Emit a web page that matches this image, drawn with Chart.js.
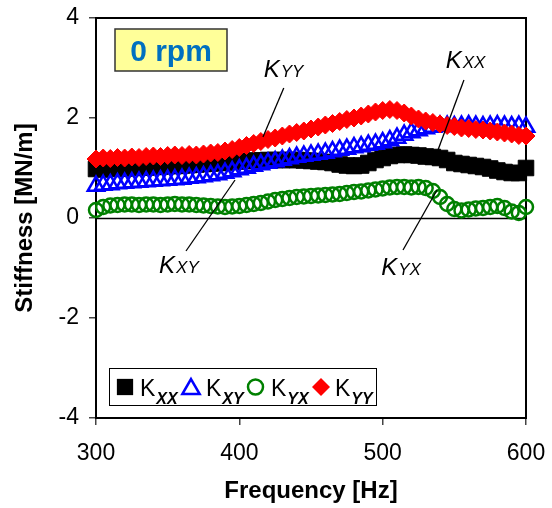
<!DOCTYPE html>
<html>
<head>
<meta charset="utf-8">
<script src="https://cdn.jsdelivr.net/npm/chart.js@4.4.1/dist/chart.umd.min.js"></script>
<style>
  body { margin: 0; background: #fff; }
  canvas { display: block; }
</style>
</head>
<body>
<canvas id="stiffChart" width="552" height="508"></canvas>
<script>
// frequency points [Hz]
const freqHz = [300, 305, 310, 315, 320, 325, 330, 335, 340, 345, 350, 355, 360, 365, 370, 375,
  380, 385, 390, 395, 400, 405, 410, 415, 420, 425, 430, 435, 440, 445, 450, 455, 460, 465,
  470, 475, 480, 485, 490, 495, 500, 505, 510, 515, 520, 525, 530, 535, 540, 545, 550, 555,
  560, 565, 570, 575, 580, 585, 590, 595, 600];

// stiffness [MN/m]
const kxx = [0.98, 0.97, 0.98, 0.99, 0.99, 1.0, 1.01, 1.01, 1.02, 1.03, 1.04, 1.04, 1.05, 1.06,
  1.07, 1.08, 1.09, 1.1, 1.11, 1.12, 1.13, 1.14, 1.15, 1.15, 1.16, 1.16, 1.16, 1.16, 1.16, 1.15,
  1.14, 1.13, 1.12, 1.1, 1.07, 1.05, 1.04, 1.05, 1.1, 1.16, 1.2, 1.24, 1.26, 1.27, 1.26, 1.25,
  1.23, 1.22, 1.2, 1.16, 1.1, 1.08, 1.06, 1.04, 1.02, 0.99, 0.95, 0.92, 0.9, 0.9, 1.0];
const kxy = [0.64, 0.66, 0.67, 0.69, 0.7, 0.71, 0.72, 0.73, 0.74, 0.75, 0.76, 0.77, 0.78, 0.8,
  0.81, 0.83, 0.85, 0.87, 0.9, 0.93, 0.97, 1.0, 1.04, 1.07, 1.1, 1.13, 1.16, 1.19, 1.22, 1.24,
  1.26, 1.28, 1.3, 1.33, 1.36, 1.38, 1.41, 1.43, 1.46, 1.48, 1.51, 1.55, 1.6, 1.66, 1.71, 1.75,
  1.79, 1.82, 1.84, 1.84, 1.83, 1.84, 1.85, 1.84, 1.83, 1.84, 1.85, 1.84, 1.83, 1.84, 1.82];
const kyx = [0.16, 0.22, 0.25, 0.26, 0.27, 0.27, 0.26, 0.27, 0.27, 0.26, 0.27, 0.28, 0.27, 0.27,
  0.26, 0.25, 0.24, 0.23, 0.22, 0.23, 0.24, 0.26, 0.28, 0.3, 0.33, 0.36, 0.38, 0.4, 0.42, 0.43,
  0.44, 0.45, 0.46, 0.47, 0.48, 0.5, 0.52, 0.53, 0.55, 0.57, 0.59, 0.61, 0.62, 0.62, 0.61, 0.62,
  0.6, 0.54, 0.42, 0.28, 0.18, 0.15, 0.17, 0.19, 0.2, 0.22, 0.24, 0.2, 0.13, 0.1, 0.22];
const kyy = [1.18, 1.2, 1.19, 1.21, 1.2, 1.22, 1.21, 1.23, 1.24, 1.23, 1.25, 1.26, 1.25, 1.27,
  1.26, 1.28, 1.3, 1.31, 1.34, 1.37, 1.41, 1.45, 1.49, 1.53, 1.57, 1.6, 1.64, 1.68, 1.71, 1.74,
  1.78, 1.82, 1.86, 1.89, 1.93, 1.97, 2.0, 2.04, 2.08, 2.12, 2.15, 2.17, 2.15, 2.1, 2.04, 1.98,
  1.94, 1.91, 1.88, 1.85, 1.83, 1.8, 1.79, 1.77, 1.76, 1.74, 1.72, 1.7, 1.68, 1.65, 1.64];

const seriesNames = ["XX", "XY", "YX", "YY"];
const xTicks = [300, 400, 500, 600];
const yTicks = [-4, -2, 0, 2, 4];

const FONT = "'Liberation Sans', Arial, sans-serif";

function toPoints(vals) {
  return vals.map((v, i) => ({ x: freqHz[i], y: v }));
}

// draws "K" with a smaller trailing index, like K_XX
function drawK(ctx, x, y, sub, bigFont, subFont, dropY) {
  ctx.textAlign = "left";
  ctx.textBaseline = "alphabetic";
  ctx.font = bigFont;
  ctx.fillText("K", x, y);
  const w = ctx.measureText("K").width;
  ctx.font = subFont;
  ctx.fillText(sub, x + w + 1, y + dropY);
}

function drawMarker(ctx, kind, x, y, r) {
  ctx.beginPath();
  if (kind === "rect") {
    const s = r * Math.SQRT1_2;
    ctx.rect(x - s, y - s, 2 * s, 2 * s);
    ctx.fill();
  } else if (kind === "triangle") {
    for (let k = 0; k < 3; k++) {
      const a = k * 2 * Math.PI / 3;
      const px = x + Math.sin(a) * r, py = y - Math.cos(a) * r;
      k ? ctx.lineTo(px, py) : ctx.moveTo(px, py);
    }
    ctx.closePath();
    ctx.stroke();
  } else if (kind === "circle") {
    ctx.arc(x, y, r, 0, Math.PI * 2);
    ctx.stroke();
  } else {
    ctx.moveTo(x - r, y); ctx.lineTo(x, y - r); ctx.lineTo(x + r, y); ctx.lineTo(x, y + r);
    ctx.closePath();
    ctx.fill();
  }
}

const frameAndNotes = {
  id: "frameAndNotes",
  beforeDatasetsDraw(chart) {
    const { ctx, chartArea: a, scales: { y } } = chart;
    ctx.save();
    ctx.strokeStyle = "#000";
    ctx.lineWidth = 1.5;
    const y0 = Math.round(y.getPixelForValue(0)) + 0.5;
    ctx.beginPath();
    ctx.moveTo(a.left, y0);
    ctx.lineTo(a.right, y0);
    ctx.stroke();
    ctx.lineWidth = 2;
    ctx.strokeRect(a.left, a.top, a.right - a.left, a.bottom - a.top);
    ctx.restore();
  },
  afterDraw(chart) {
    const { ctx, scales: { x, y } } = chart;
    ctx.save();

    // "0 rpm" box
    ctx.fillStyle = "#FFFF99";
    ctx.fillRect(115, 29, 112, 42);
    ctx.strokeStyle = "#333";
    ctx.lineWidth = 1.5;
    ctx.strokeRect(115, 29, 112, 42);
    ctx.fillStyle = "#0070C0";
    ctx.font = "bold 30px " + FONT;
    ctx.textAlign = "center";
    ctx.textBaseline = "alphabetic";
    ctx.fillText("0 rpm", 171, 61);

    // leader lines and labels
    const notes = [
      { sub: "YY", tx: 417, ty: 2.82, l: [431, 2.6, 416.5, 1.62] },
      { sub: "XX", tx: 544, ty: 3.0, l: [556.7, 2.76, 538.6, 1.36] },
      { sub: "XY", tx: 344, ty: -1.1, l: [362.8, -0.66, 397, 0.76] },
      { sub: "YX", tx: 499, ty: -1.14, l: [514.2, -0.64, 537.9, 0.56] },
    ];
    ctx.strokeStyle = "#000";
    ctx.fillStyle = "#000";
    ctx.lineWidth = 1.3;
    notes.forEach((n) => {
      ctx.beginPath();
      ctx.moveTo(x.getPixelForValue(n.l[0]), y.getPixelForValue(n.l[1]));
      ctx.lineTo(x.getPixelForValue(n.l[2]), y.getPixelForValue(n.l[3]));
      ctx.stroke();
      drawK(ctx, x.getPixelForValue(n.tx), y.getPixelForValue(n.ty), n.sub,
        "italic 24px " + FONT, "italic 17px " + FONT, 0);
    });

    // legend
    ctx.fillStyle = "#fff";
    ctx.fillRect(109, 368, 267, 37);
    ctx.strokeStyle = "#000";
    ctx.lineWidth = 1;
    ctx.strokeRect(109.5, 368.5, 267, 37);
    const items = [
      { kind: "rect", color: "#000000", mx: 125, r: 11.5, tx: 140 },
      { kind: "triangle", color: "#0000FF", mx: 191, r: 10, tx: 206 },
      { kind: "circle", color: "#008000", mx: 255.5, r: 7.5, tx: 271 },
      { kind: "rectRot", color: "#FF0000", mx: 321, r: 9, tx: 335 },
    ];
    items.forEach((it, i) => {
      ctx.fillStyle = it.color;
      ctx.strokeStyle = it.color;
      ctx.lineWidth = 2.5;
      drawMarker(ctx, it.kind, it.mx, it.kind === "triangle" ? 389 : 387, it.r);
      ctx.fillStyle = "#000";
      drawK(ctx, it.tx, 396, seriesNames[i], "23px " + FONT, "bold italic 16px " + FONT, 8);
    });

    ctx.restore();
  },
};

document.addEventListener("DOMContentLoaded", function () {
  const ctx = document.getElementById("stiffChart").getContext("2d");

  const config = {
    type: "scatter",
    data: {
      datasets: [
        {
          label: "Kxx",
          data: toPoints(kxx),
          order: 3,
          pointStyle: "rect",
          pointRadius: 11,
          backgroundColor: "#000000",
          borderColor: "#000000",
          borderWidth: 1,
          clip: false,
        },
        {
          label: "Kxy",
          data: toPoints(kxy),
          order: 2,
          pointStyle: "triangle",
          pointRadius: 9.5,
          backgroundColor: "rgba(0,0,0,0)",
          borderColor: "#0000FF",
          borderWidth: 2.5,
          clip: false,
        },
        {
          label: "Kyx",
          data: toPoints(kyx),
          order: 1,
          pointStyle: "circle",
          pointRadius: 7,
          backgroundColor: "rgba(0,0,0,0)",
          borderColor: "#008000",
          borderWidth: 2.5,
          clip: false,
        },
        {
          label: "Kyy",
          data: toPoints(kyy),
          order: 0,
          pointStyle: "rectRot",
          pointRadius: 9,
          backgroundColor: "#FF0000",
          borderColor: "#FF0000",
          borderWidth: 1,
          clip: false,
        },
      ],
    },
    options: {
      responsive: false,
      animation: false,
      layout: {
        padding: { top: 18, right: 26, left: 8, bottom: 0 },
      },
      plugins: {
        legend: { display: false },
        tooltip: { enabled: false },
      },
      scales: {
        x: {
          type: "linear",
          min: xTicks[0],
          max: xTicks[xTicks.length - 1],
          afterBuildTicks: (s) => { s.ticks = xTicks.map((v) => ({ value: v })); },
          afterFit: (s) => {
            s.height = 90;
            s.paddingLeft = 0;
            s.paddingRight = 0;
          },
          grid: {
            drawOnChartArea: false,
            tickLength: 7,
            color: "#444",
            lineWidth: 1.5,
          },
          border: { display: false },
          ticks: {
            color: "#000",
            padding: 15,
            maxRotation: 0,
            font: { family: FONT, size: 23 },
          },
          title: {
            display: true,
            text: "Frequency [Hz]",
            color: "#000",
            padding: { top: 0, bottom: 2 },
            font: { family: FONT, size: 24, weight: "bold" },
          },
        },
        y: {
          min: yTicks[0],
          max: yTicks[yTicks.length - 1],
          afterBuildTicks: (s) => { s.ticks = yTicks.map((v) => ({ value: v })); },
          afterFit: (s) => {
            s.width = 88;
            s.paddingTop = 0;
            s.paddingBottom = 0;
          },
          grid: {
            drawOnChartArea: false,
            tickLength: 7,
            color: "#444",
            lineWidth: 1.5,
          },
          border: { display: false },
          ticks: {
            color: "#000",
            padding: 10,
            font: { family: FONT, size: 23 },
          },
          title: {
            display: true,
            text: "Stiffness [MN/m]",
            color: "#000",
            padding: { top: 3, bottom: 0 },
            font: { family: FONT, size: 24, weight: "bold" },
          },
        },
      },
    },
    plugins: [frameAndNotes],
  };

  new Chart(ctx, config);
});
</script>
</body>
</html>
